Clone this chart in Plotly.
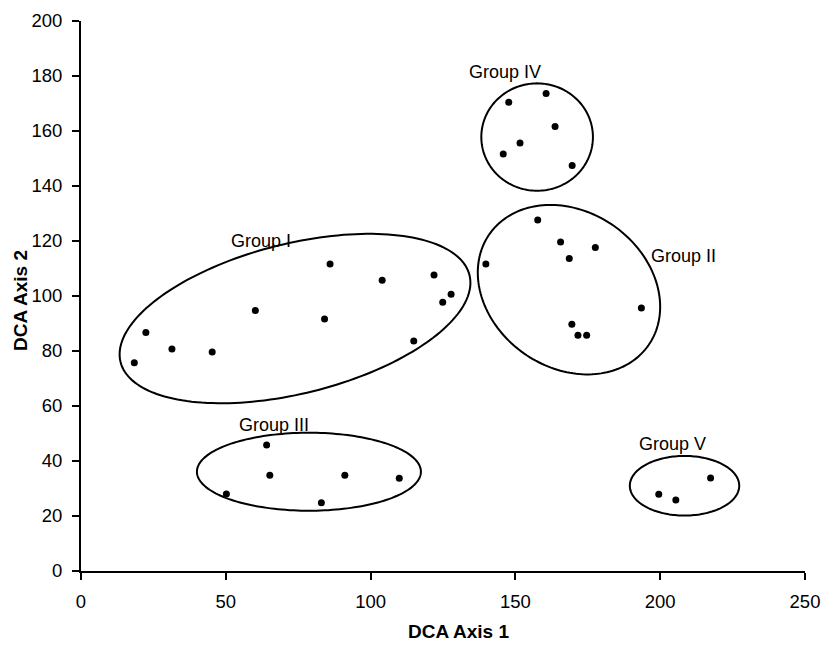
import numpy as np
import plotly.graph_objects as go

# DCA site scores
axis1 = [18.4, 22.4, 31.4, 45.3, 60.2, 84.1, 86.0, 104.0, 121.9, 127.8, 124.9, 114.9,
         157.7, 139.8, 165.6, 177.6, 168.6, 193.5, 169.5, 171.6, 174.6,
         64.1, 65.2, 91.1, 109.9, 50.2, 83.0,
         147.7, 160.6, 163.7, 151.6, 145.8, 169.6,
         199.5, 205.4, 217.4]
axis2 = [75.7, 86.7, 80.7, 79.6, 94.7, 91.6, 111.6, 105.7, 107.6, 100.6, 97.7, 83.6,
         127.6, 111.6, 119.6, 117.6, 113.6, 95.6, 89.7, 85.7, 85.7,
         45.8, 34.8, 34.8, 33.7, 28.0, 24.8,
         170.5, 173.6, 161.6, 155.6, 151.6, 147.5,
         27.9, 25.8, 33.8]

group_names = ["Group I", "Group II", "Group III", "Group IV", "Group V"]
label_x = [62.2, 208.0, 66.6, 146.4, 204.1]
label_y = [120.0, 114.5, 53.0, 181.5, 46.2]

# Ellipse outlines: centre (data units), semi-axes (pixels), tilt (degrees)
ell_cx = [73.9, 168.5, 78.7, 157.5, 208.4]
ell_cy = [91.8, 102.3, 36.1, 157.8, 31.0]
ell_a = [179.8, 97.0, 112.0, 55.8, 54.7]
ell_b = [74.9, 78.0, 39.0, 53.7, 29.8]
ell_rot = [14.0, -35.0, 0.0, 0.0, 0.0]

W, H = 824, 645
M = dict(l=81, r=19, t=21, b=74)
XR, YR = (0, 250), (0, 200)
px_x = (W - M["l"] - M["r"]) / (XR[1] - XR[0])
px_y = (H - M["t"] - M["b"]) / (YR[1] - YR[0])

FONT = "Liberation Sans, Arial"


def ellipse_path(cx, cy, a, b, rot):
    t = np.linspace(0, 2 * np.pi, 181)
    th = np.radians(rot)
    dx = a * np.cos(t) * np.cos(th) - b * np.sin(t) * np.sin(th)
    dy = a * np.cos(t) * np.sin(th) + b * np.sin(t) * np.cos(th)
    xs = cx + dx / px_x
    ys = cy + dy / px_y
    pts = [f"{x:.3f},{y:.3f}" for x, y in zip(xs, ys)]
    return "M " + " L ".join(pts) + " Z"


fig = go.Figure()
fig.add_trace(go.Scatter(
    x=axis1, y=axis2, mode="markers",
    marker=dict(color="black", size=7),
    showlegend=False, cliponaxis=False,
))

for cx, cy, a, b, r in zip(ell_cx, ell_cy, ell_a, ell_b, ell_rot):
    fig.add_shape(type="path", path=ellipse_path(cx, cy, a, b, r),
                  xref="x", yref="y", line=dict(color="black", width=2),
                  fillcolor="rgba(0,0,0,0)", layer="above")

for name, lx, ly in zip(group_names, label_x, label_y):
    fig.add_annotation(x=lx, y=ly, text=name, showarrow=False,
                       xanchor="center", yanchor="middle",
                       font=dict(family=FONT, size=18, color="black"))

# Axis titles
title_font = dict(family=FONT, size=19, color="black")
fig.add_annotation(xref="paper", yref="paper", x=0.521, y=-0.1109,
                   text="<b>DCA Axis 1</b>", showarrow=False,
                   xanchor="center", yanchor="middle", font=title_font)
fig.add_annotation(xref="paper", yref="paper", x=-0.0843, y=0.4927,
                   text="<b>DCA Axis 2</b>", showarrow=False, textangle=-90,
                   xanchor="center", yanchor="middle", font=title_font)

axis_common = dict(
    showgrid=False, zeroline=False, showline=True, linecolor="black", linewidth=2,
    ticks="outside", ticklen=7, tickwidth=2, tickcolor="black",
    tickfont=dict(family=FONT, size=18.5, color="black"),
    fixedrange=True, automargin=False, ticklabelstandoff=6,
)
fig.update_xaxes(range=list(XR), tickvals=[0, 50, 100, 150, 200, 250], **axis_common)
fig.update_yaxes(range=list(YR), tickvals=list(range(0, 201, 20)), **axis_common)

fig.update_layout(
    width=W, height=H, margin=M,
    paper_bgcolor="white", plot_bgcolor="white",
)

fig.write_html("out.html")
